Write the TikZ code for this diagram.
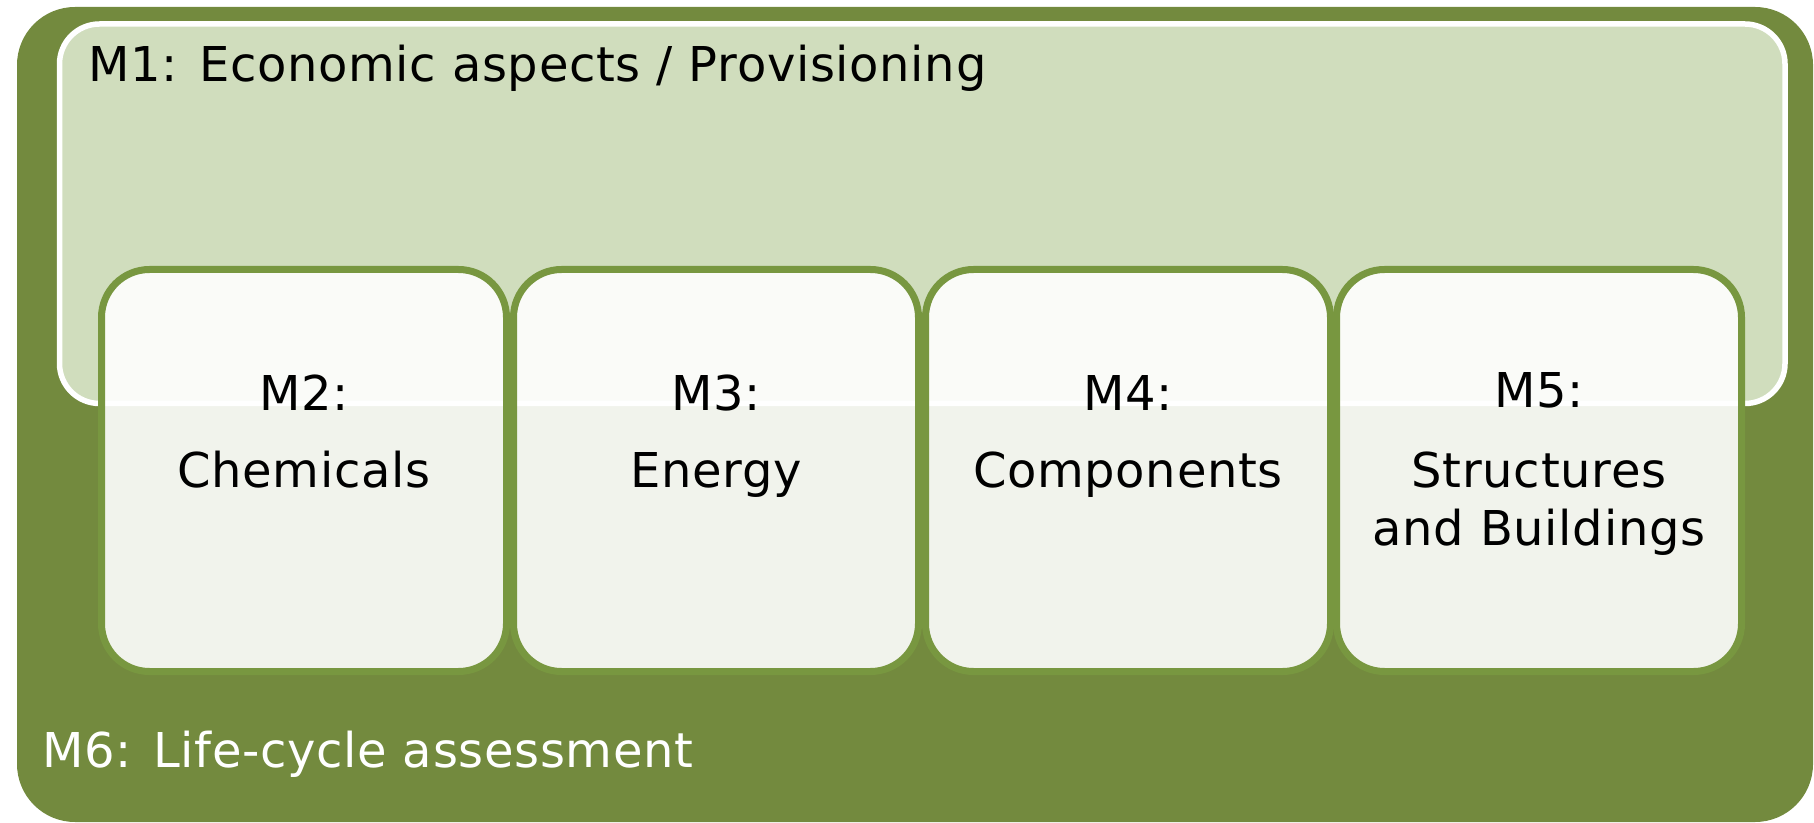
\documentclass[tikz,border=0pt]{standalone}
\usepackage{fontspec}
\setmainfont{DejaVu Sans}[LetterSpace=1.4]
\definecolor{outergreen}{HTML}{738A3E}
\definecolor{mlight}{HTML}{D0DDBD}
\definecolor{boxline}{HTML}{789740}
\begin{document}
\begin{tikzpicture}[x=0.5pt,y=-0.5pt,
  lbl/.style={font=\fontsize{24pt}{29pt}\selectfont, inner sep=0pt, text=black},
  modbox/.style={draw=boxline, line width=3.5pt, fill=white, fill opacity=0.9,
    rounded corners=24pt, minimum width=202.5pt, minimum height=201pt, inner sep=0pt}]
\useasboundingbox (0,0) rectangle (1814,823);
% M6 background
\fill[outergreen, rounded corners=29pt] (17,7) rectangle (1813,822);
% M1 panel
\draw[white, line width=2.75pt, fill=mlight, rounded corners=20pt] (59.5,24) rectangle (1785,403.5);
\node[lbl, anchor=base west] (m1) at (88,82) {M1: Economic aspects / Provisioning};
% module boxes
\node[modbox] (b2) at (304,470.5) {};
\node[modbox] (b3) at (716,470.5) {};
\node[modbox] (b4) at (1128,470.5) {};
\node[modbox] (b5) at (1539,470.5) {};
\node[lbl, anchor=base] (t2) at (304,410) {M2:};
\node[lbl, anchor=base] (c2) at (304,487) {Chemicals};
\node[lbl, anchor=base] (t3) at (716,410) {M3:};
\node[lbl, anchor=base] (c3) at (716,487) {Energy};
\node[lbl, anchor=base] (t4) at (1128,410) {M4:};
\node[lbl, anchor=base] (c4) at (1128,487) {Components};
\node[lbl, anchor=base] (t5) at (1539,408) {M5:};
\node[lbl, anchor=base] (c5a) at (1539,487) {Structures};
\node[lbl, anchor=base] (c5b) at (1539,545) {and Buildings};
\node[lbl, anchor=base west, text=white] (m6) at (42,767) {M6: Life-cycle assessment};
\end{tikzpicture}
\end{document}
